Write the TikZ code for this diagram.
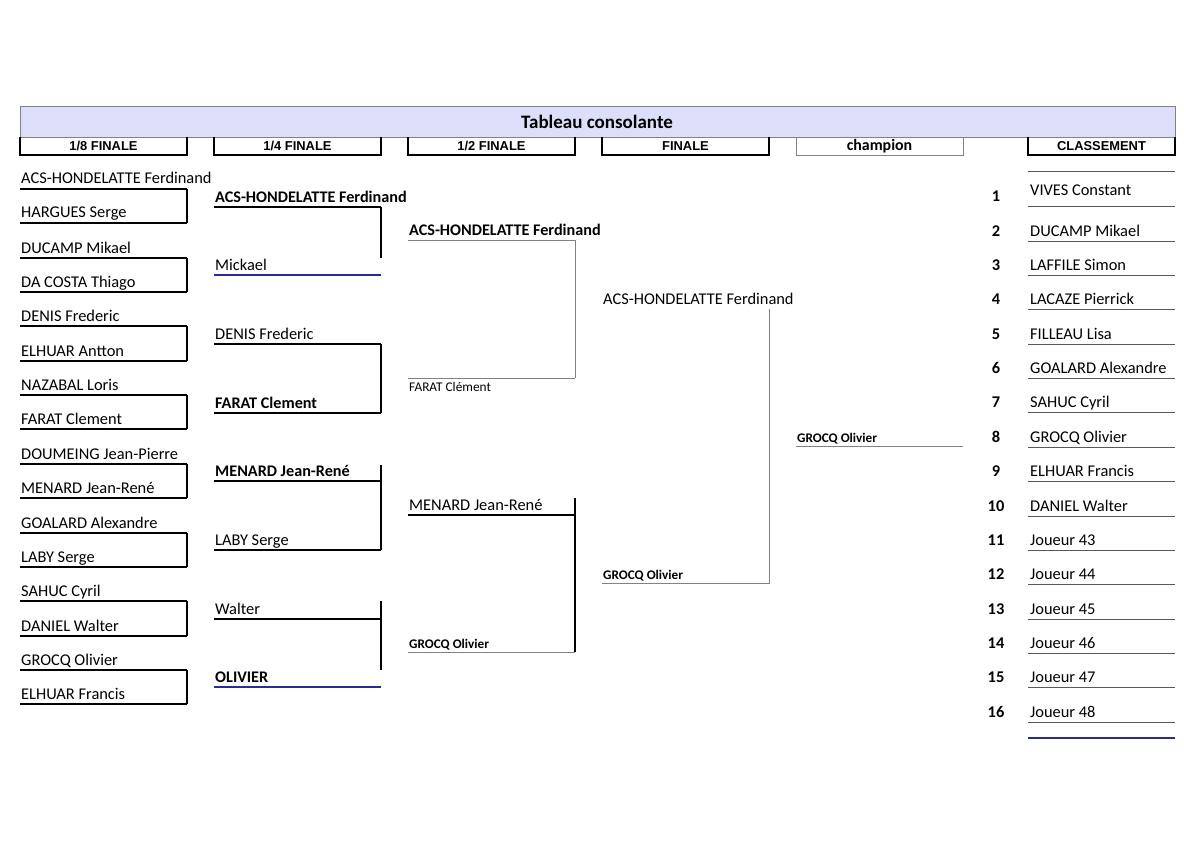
\documentclass[tikz,border=0pt]{standalone}
\usepackage{fontspec}
\setmainfont{Carlito}
\newfontfamily\arialfont{Liberation Sans}
\definecolor{bandfill}{RGB}{221,222,250}
\definecolor{navyline}{RGB}{40,42,150}
\definecolor{greyline}{RGB}{130,130,130}
\tikzset{
  player/.style={anchor=base west, inner sep=0pt, font=\fontsize{16.4}{18}\selectfont},
  win/.style={player, font=\bfseries\fontsize{16.2}{18}\selectfont},
  smallname/.style={player, font=\fontsize{13.3}{15}\selectfont},
  smallwin/.style={player, font=\bfseries\fontsize{13.2}{15}\selectfont},
  hdr/.style={anchor=base, inner sep=0pt, font=\arialfont\bfseries\fontsize{12.9}{14}\selectfont},
  rule/.style={black, line width=1.5pt},
  navyrule/.style={navyline, line width=2pt},
  greyrule/.style={greyline, line width=0.9pt},
  classrule/.style={black!65, line width=1pt},
}
\begin{document}
\begin{tikzpicture}[x=1pt,y=-1pt]
\useasboundingbox (0,0) rectangle (1200,848);
% title band
\draw[greyline, fill=bandfill] (20,106) rectangle (1175,137);
\node[anchor=base, inner sep=0pt, font=\bfseries\fontsize{19}{21}\selectfont] (titre) at (597,128.5) {Tableau consolante};
% column heads
\foreach \xa/\xb/\txt [count=\c] in {20/187/{1/8 FINALE}, 214/381/{1/4 FINALE}, 408/575/{1/2 FINALE}, 602/769/FINALE, 1028/1175/CLASSEMENT}{
  \draw[rule] (\xa,137) -- (\xa,155) -- (\xb,155) -- (\xb,137);
  \node[hdr] (tete\c) at ({(\xa+\xb)/2},151) {\txt};
}
\draw[greyrule] (796,137) rectangle (963,155);
\node[anchor=base, inner sep=0pt, font=\bfseries\fontsize{15.9}{17}\selectfont] (champ) at (879.5,150) {champion};

% 1/8 finale
\foreach \nm [count=\i from 0] in {ACS-HONDELATTE Ferdinand, HARGUES Serge, DUCAMP Mikael, DA COSTA Thiago, DENIS Frederic, ELHUAR Antton, NAZABAL Loris, FARAT Clement, DOUMEING Jean-Pierre, MENARD Jean-René, GOALARD Alexandre, LABY Serge, SAHUC Cyril, DANIEL Walter, GROCQ Olivier, ELHUAR Francis}{
  \pgfmathsetmacro\y{round(189+34.35*\i)}
  \coordinate (hl\i) at (20,\y);
  \coordinate (hr\i) at (187,\y);
  \node[player] (h\i) at ([shift={(1,-5)}]hl\i) {\nm};
  \draw[rule] (hl\i) -- (hr\i);
}
\foreach \i in {0,2,...,14}{
  \pgfmathtruncatemacro\j{\i+1}
  \draw[rule] (hr\i) -- (hr\j);
}

% 1/4 finale
\foreach \nm/\st/\ln [count=\i from 0] in {ACS-HONDELATTE Ferdinand/win/rule, Mickael/player/navyrule, DENIS Frederic/player/rule, FARAT Clement/win/rule, MENARD Jean-René/win/rule, LABY Serge/player/rule, Walter/player/rule, OLIVIER/win/navyrule}{
  \pgfmathsetmacro\y{round(206.5+68.7*\i)}
  \coordinate (ql\i) at (214,\y);
  \coordinate (qr\i) at (381,\y);
  \node[\st] (q\i) at ([shift={(1,-5)}]ql\i) {\nm};
  \draw[\ln] (ql\i) -- (qr\i);
}
\foreach \a/\b/\s/\t in {0/1/0/17, 2/3/0/0, 4/5/16/0, 6/7/18/17}{
  \draw[rule] ([yshift=\s pt]qr\a) -- ([yshift=\t pt]qr\b);
}

% 1/2 finale
\foreach \nm/\st/\ln/\dy [count=\i from 0] in {ACS-HONDELATTE Ferdinand/win/greyrule/-5, FARAT Clément/smallname/greyrule/13.5, MENARD Jean-René/player/rule/-5, GROCQ Olivier/smallwin/greyrule/-3.5}{
  \pgfmathsetmacro\y{round(240.3+137.4*\i)}
  \coordinate (dl\i) at (408,\y);
  \coordinate (dr\i) at (575,\y);
  \node[\st] (d\i) at ([shift={(1,\dy)}]dl\i) {\nm};
  \draw[\ln] (dl\i) -- (dr\i);
}
\draw[greyrule] (dr0) -- (dr1);
\draw[rule] ([yshift=17pt]dr2) -- (dr3);

% finale
\coordinate (fl0) at (602,309);
\coordinate (fr0) at (769,309);
\coordinate (fl1) at (602,583);
\coordinate (fr1) at (769,583);
\node[player] (f0) at ([shift={(1,-5)}]fl0) {ACS-HONDELATTE Ferdinand};
\node[smallwin] (f1) at ([shift={(1,-3.5)}]fl1) {GROCQ Olivier};
\draw[greyrule] (fr0) -- (fr1) -- (fl1);

% champion
\coordinate (cl) at (796,446);
\coordinate (cr) at (963,446);
\node[smallwin] (vainqueur) at ([shift={(1,-3.5)}]cl) {GROCQ Olivier};
\draw[greyrule] (cl) -- (cr);

% classement
\foreach \k in {0,...,16}{
  \pgfmathsetmacro\y{round(172+34.35*\k)}
  \coordinate (kl\k) at (1028,\y);
  \coordinate (kr\k) at (1175,\y);
  \draw[classrule] (kl\k) -- (kr\k);
}
\coordinate (kl17) at (1028,738);
\coordinate (kr17) at (1175,738);
\draw[navyrule] (kl17) -- (kr17);
\foreach \nm [count=\k] in {VIVES Constant, DUCAMP Mikael, LAFFILE Simon, LACAZE Pierrick, FILLEAU Lisa, GOALARD Alexandre, SAHUC Cyril, GROCQ Olivier, ELHUAR Francis, DANIEL Walter, Joueur 43, Joueur 44, Joueur 45, Joueur 46, Joueur 47, Joueur 48}{
  \pgfmathsetmacro\dy{\k==1 ? -11 : -5}
  \node[anchor=base, inner sep=0pt, font=\bfseries\fontsize{16.4}{18}\selectfont] (rang\k) at ([shift={(-32,-5)}]kl\k) {\k};
  \node[player] (cl\k) at ([shift={(2,\dy)}]kl\k) {\nm};
}
\end{tikzpicture}
\end{document}
